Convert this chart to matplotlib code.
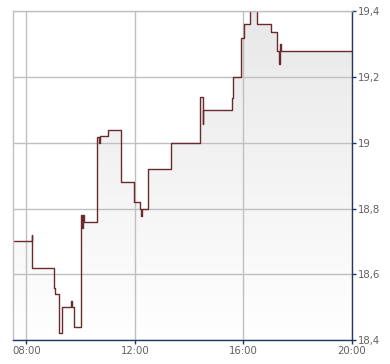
import matplotlib
matplotlib.use("Agg")
import matplotlib.pyplot as plt
import numpy as np
from matplotlib.ticker import FixedLocator, FuncFormatter

# ---- data (time of change, price after change) ----
times = ["07:31", "08:12", "08:13", "09:02", "09:04", "09:13", "09:20", "09:38",
         "09:40", "09:45", "10:02", "10:04", "10:06", "10:08", "10:37", "10:41",
         "10:43", "11:01", "11:30", "11:59", "12:11", "12:13", "12:15", "12:29",
         "13:20", "14:25", "14:30", "14:31", "15:35", "15:37", "15:54", "16:01",
         "16:14", "16:30", "17:02", "17:14", "17:19", "17:21", "17:24", "20:00"]
prices = [18.70, 18.72, 18.62, 18.557, 18.54, 18.42, 18.50, 18.52,
          18.50, 18.44, 18.78, 18.74, 18.78, 18.758, 19.018, 19.00,
          19.021, 19.039, 18.88, 18.82, 18.80, 18.778, 18.80, 18.92,
          19.00, 19.138, 19.057, 19.10, 19.137, 19.20, 19.318, 19.36,
          19.42, 19.36, 19.338, 19.279, 19.239, 19.30, 19.278, 19.278]

x_ticks = [8, 12, 16, 20]
x_tick_labels = ["08:00", "12:00", "16:00", "20:00"]
y_ticks = [18.4, 18.6, 18.8, 19.0, 19.2, 19.4]
y_tick_labels = ["18,4", "18,6", "18,8", "19", "19,2", "19,4"]

def to_hours(s):
    h, m = s.split(":")
    return int(h) + int(m) / 60.0

t = np.array([to_hours(s) for s in times])
p = np.array(prices)

x_min, x_max = 7.51, 20.0
y_min, y_max = 18.4, 19.4

fig = plt.figure(figsize=(3.9, 3.64), dpi=100)
ax = fig.add_axes([13 / 390, 1 - 340 / 364, (352 - 13) / 390, (340 - 11.3) / 364])
ax.set_xlim(x_min, x_max)
ax.set_ylim(y_min, y_max)

# gradient fill under the step line
grad = np.linspace(0, 1, 256).reshape(-1, 1)
top_c = np.array([0.91, 0.91, 0.91])
bot_c = np.array([1.0, 1.0, 1.0])
img = top_c[None, None, :] * (1 - grad[:, :, None]) + bot_c[None, None, :] * grad[:, :, None]
im = ax.imshow(img, extent=[x_min, x_max, y_min, y_max], aspect="auto", origin="upper", zorder=1)
poly = ax.fill_between(t, p, y_min, step="post", facecolor="none", edgecolor="none")
clip_path = poly.get_paths()[0]
import matplotlib.patches as mpatches
patch = mpatches.PathPatch(clip_path, transform=ax.transData, facecolor="none", edgecolor="none")
ax.add_patch(patch)
im.set_clip_path(patch)

ax.step(t, p, where="post", color="#6b2a2e", lw=1.0, zorder=3)

# grid
ax.xaxis.set_major_locator(FixedLocator(x_ticks))
ax.yaxis.set_major_locator(FixedLocator(y_ticks))
ax.set_xticklabels(x_tick_labels)
ax.set_yticklabels(y_tick_labels)
ax.grid(True, color="#c0c0c0", lw=1.0, zorder=2)
ax.set_axisbelow(False)
for gl in ax.get_xgridlines() + ax.get_ygridlines():
    gl.set_zorder(2)

ax.yaxis.tick_right()
ax.tick_params(axis="y", which="both", direction="out", length=3, width=1,
               color="#1f3864", pad=1.5, labelsize=7.3, labelcolor="#606060")
ax.tick_params(axis="x", which="both", direction="out", length=3, width=1,
               color="#1f3864", pad=1.5, labelsize=7.3, labelcolor="#606060")

for side in ["left", "top"]:
    ax.spines[side].set_color("#c0c0c0")
    ax.spines[side].set_linewidth(1.0)
for side in ["right", "bottom"]:
    ax.spines[side].set_color("#1f3864")
    ax.spines[side].set_linewidth(1.0)
for s in ax.spines.values():
    s.set_zorder(4)

fig.savefig("out.png", dpi=100)
